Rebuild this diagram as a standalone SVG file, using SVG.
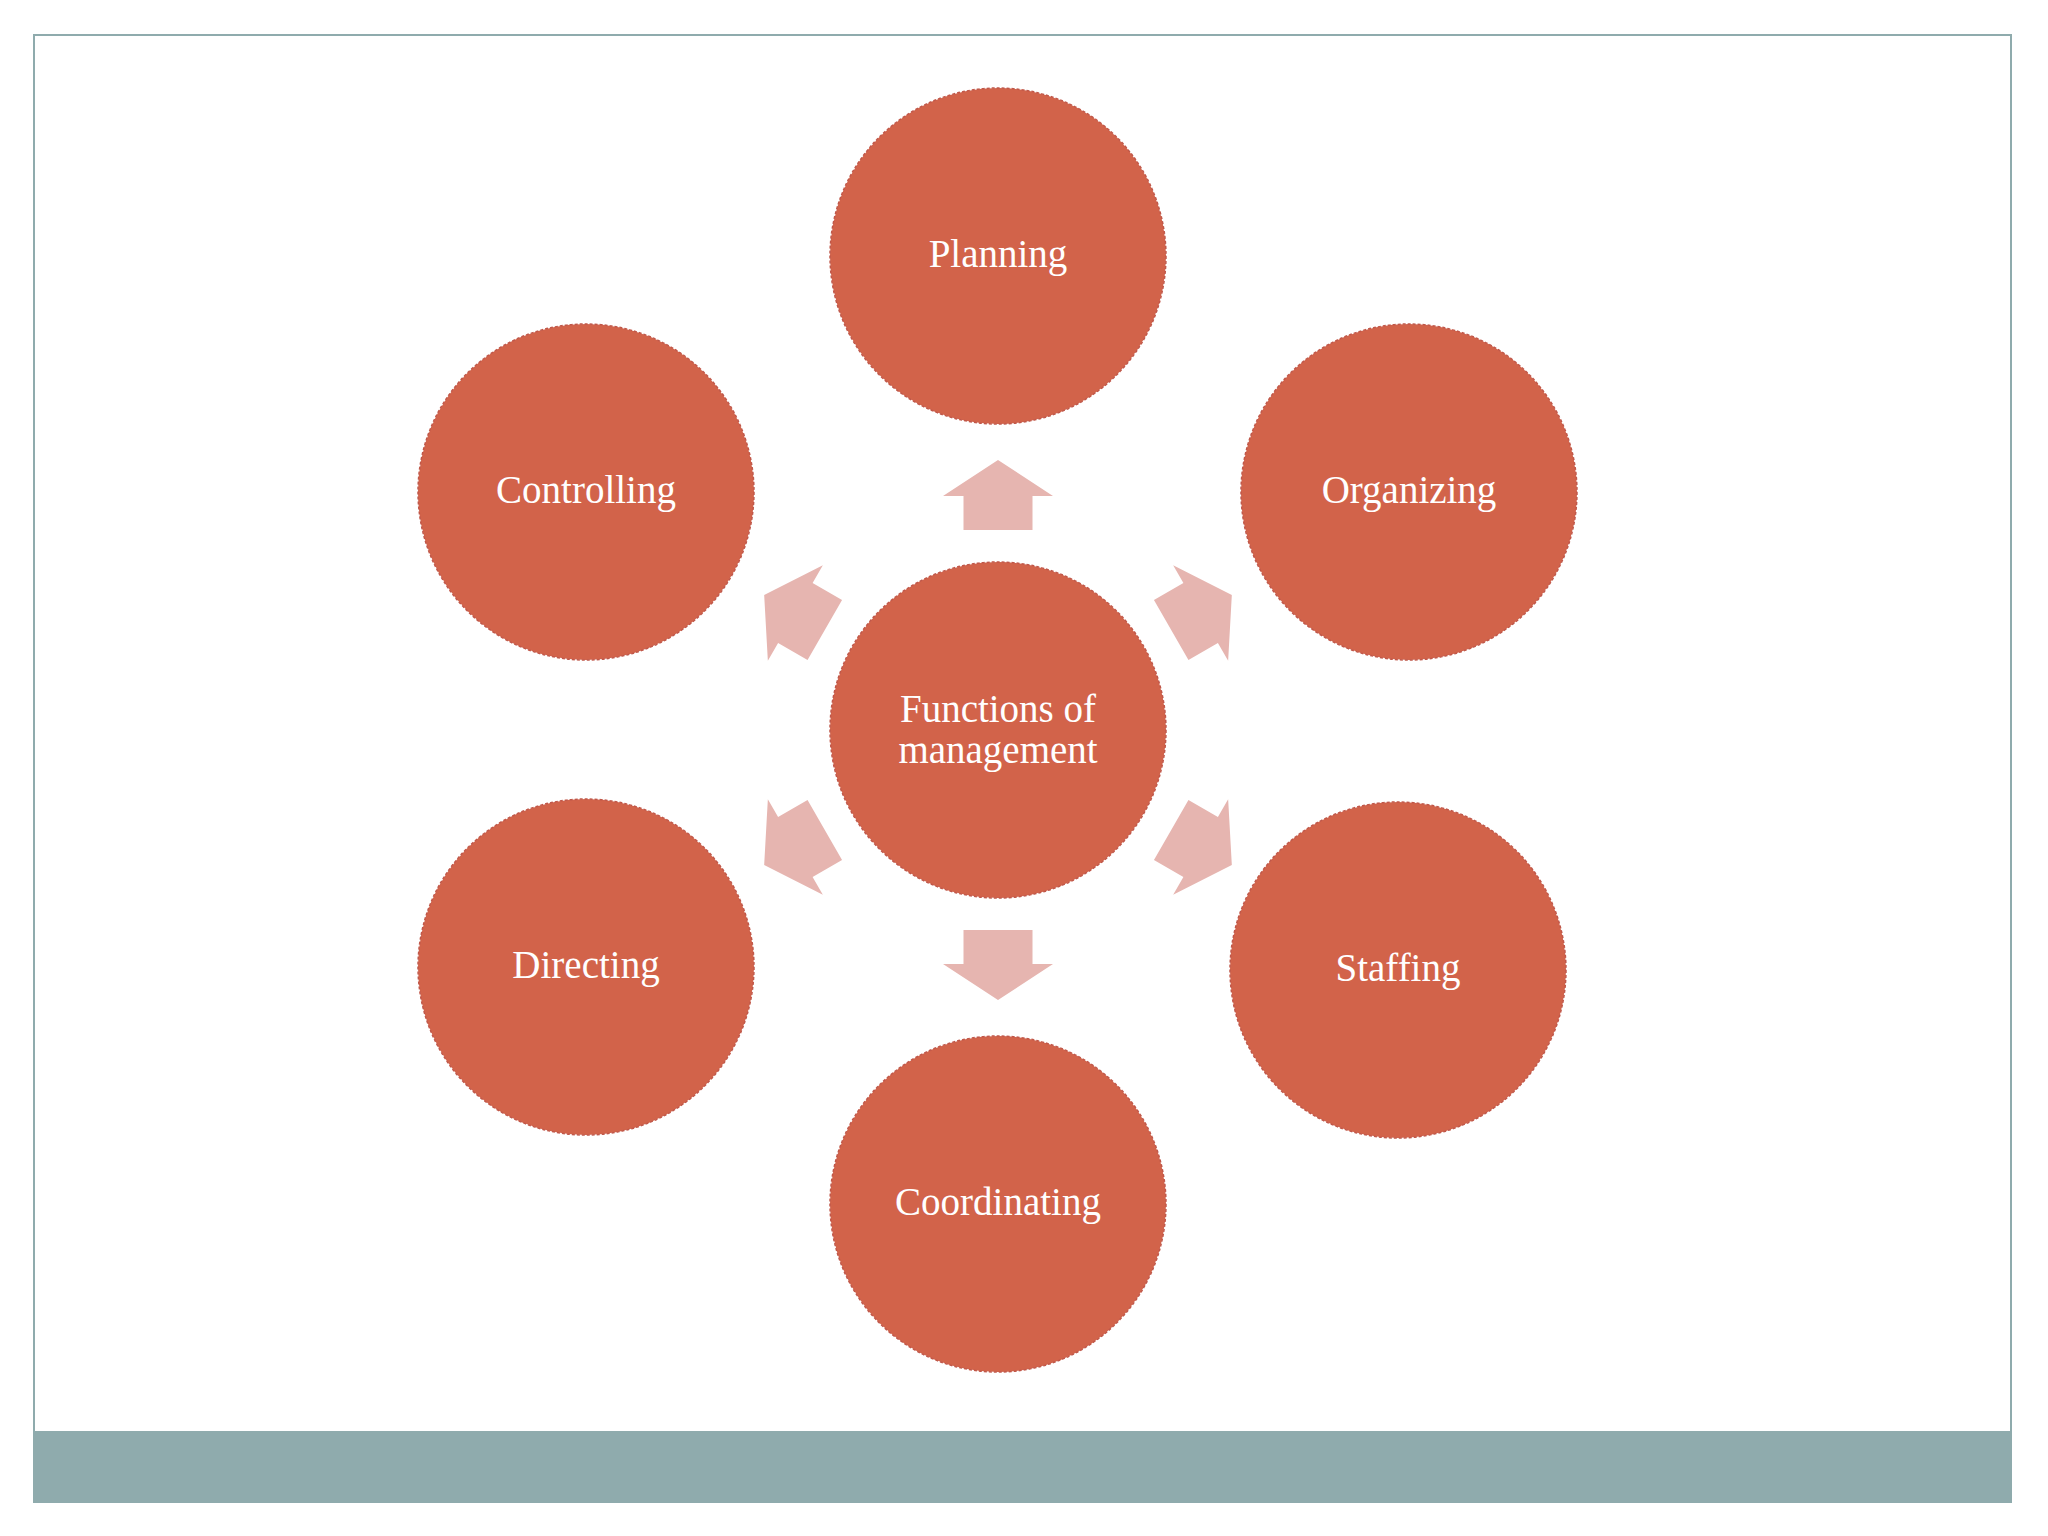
<svg xmlns="http://www.w3.org/2000/svg" width="2048" height="1536" viewBox="0 0 2048 1536">
<style>
.c{fill:#d2634a;stroke:#c0584a;stroke-width:1.5;stroke-dasharray:3 2}
.t{font-family:"Liberation Serif","DejaVu Serif",serif;font-size:39px;fill:#ffffff;text-anchor:middle}
.a{fill:#e6b5b0}
</style>
<defs>
<path id="arr" d="M0,-270 L55,-234 L34.5,-234 L34.5,-200 L-34.5,-200 L-34.5,-234 L-55,-234 Z"/>
</defs>
<rect x="0" y="0" width="2048" height="1536" fill="#ffffff"/>
<rect x="34" y="35" width="1977" height="1467" fill="#ffffff" stroke="#8fabad" stroke-width="2"/>
<rect x="34" y="1431" width="1977" height="71" fill="#8fabad"/>
<g id="connectors" class="a">
<use href="#arr" transform="translate(998,730)"/>
<use href="#arr" transform="translate(998,730) rotate(60)"/>
<use href="#arr" transform="translate(998,730) rotate(120)"/>
<use href="#arr" transform="translate(998,730) rotate(180)"/>
<use href="#arr" transform="translate(998,730) rotate(240)"/>
<use href="#arr" transform="translate(998,730) rotate(300)"/>
</g>
<g id="center"><circle class="c" cx="998" cy="730" r="168"/><text class="t" x="998" y="722">Functions of</text><text class="t" x="998" y="763">management</text></g>
<g id="planning"><circle class="c" cx="998" cy="256" r="168"/><text class="t" x="998" y="267">Planning</text></g>
<g id="organizing"><circle class="c" cx="1409" cy="492" r="168"/><text class="t" x="1409" y="503">Organizing</text></g>
<g id="staffing"><circle class="c" cx="1398" cy="970" r="168"/><text class="t" x="1398" y="981">Staffing</text></g>
<g id="coordinating"><circle class="c" cx="998" cy="1204" r="168"/><text class="t" x="998" y="1215">Coordinating</text></g>
<g id="directing"><circle class="c" cx="586" cy="967" r="168"/><text class="t" x="586" y="978">Directing</text></g>
<g id="controlling"><circle class="c" cx="586" cy="492" r="168"/><text class="t" x="586" y="503">Controlling</text></g>
</svg>
